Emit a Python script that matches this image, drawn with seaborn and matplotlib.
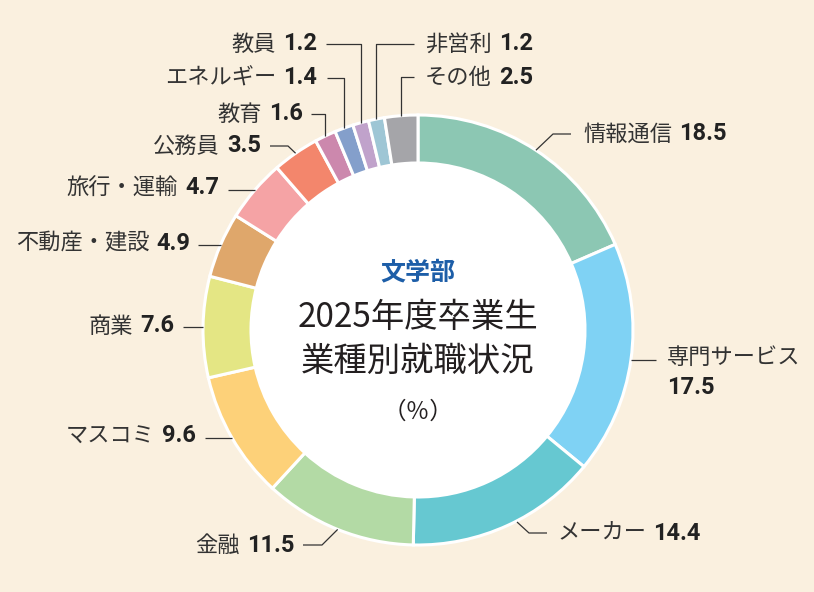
"""Donut chart: 文学部 2025年度卒業生 業種別就職状況."""

import matplotlib.pyplot as plt
import numpy as np
import seaborn as sns
from matplotlib.patches import Circle

# data
categories = ["情報通信", "専門サービス", "メーカー", "金融", "マスコミ", "商業",
              "不動産・建設", "旅行・運輸", "公務員", "教育", "エネルギー", "教員",
              "非営利", "その他"]
shares = [18.5, 17.5, 14.4, 11.5, 9.6, 7.6, 4.9, 4.7, 3.5, 1.6, 1.4, 1.2, 1.2, 2.5]
colors = ["#8cc7b3", "#7fd2f4", "#66c8d1", "#b3daa5", "#fdd179", "#e4e684",
          "#dfa76b", "#f5a3a5", "#f3866c", "#cc88ad", "#849fcb", "#c0a2cb",
          "#9ec6d5", "#a5a5a9"]
title_lines = ["文学部", "2025年度卒業生", "業種別就職状況", "（％）"]

# style
sns.set_theme(style="white")
plt.rcParams['font.family'] = ['Noto Sans CJK JP', 'DejaVu Sans']

BG = "#faf0df"
W, H = 814, 592
CX, CY, R_OUT, R_IN = 418, 330, 215, 167

# label layout (pixel coords, y down). path points: None -> take anchor's coord
# side R: text starts at x; side L: text ends at x; side B: name above number
layout = {
    "情報通信": dict(side="R", x=583, y=134, path=[(553, 134), (571, 134)]),
    "専門サービス": dict(side="B", x=667, y=357, path=[(656, None)]),
    "メーカー": dict(side="R", x=557, y=533, path=[(529, 533), (547, 533)], anchor=(517, 522)),
    "金融": dict(side="L", x=294, y=545, path=[(322, 545), (303, 545)]),
    "マスコミ": dict(side="L", x=196, y=436, path=[(205, None)]),
    "商業": dict(side="L", x=174, y=326, path=[(183, None)]),
    "不動産・建設": dict(side="L", x=190, y=243, path=[(198, None)]),
    "旅行・運輸": dict(side="L", x=219, y=188, path=[(228, None)]),
    "公務員": dict(side="L", x=261, y=146, path=[(288, 146), (270, 146)]),
    "教育": dict(side="L", x=303, y=114, path=[(None, 114), (311, 114)]),
    "エネルギー": dict(side="L", x=317, y=78, path=[(None, 78), (327, 78)]),
    "教員": dict(side="L", x=317, y=44, path=[(None, 44), (326, 44)]),
    "非営利": dict(side="R", x=425, y=44, path=[(None, 44), (414, 44)]),
    "その他": dict(side="R", x=425, y=77, path=[(None, 77), (414, 77)]),
}

fig = plt.figure(figsize=(W / 100, H / 100), dpi=100, facecolor=BG)
ax = fig.add_axes([0, 0, 1, 1])
ax.set_facecolor(BG)

palette = sns.color_palette(colors)
wedges, _ = ax.pie(shares, colors=palette, startangle=270, counterclock=True,
                   radius=R_OUT, center=(CX, CY),
                   wedgeprops=dict(width=R_OUT - R_IN, edgecolor="white", linewidth=2.2))
ax.add_patch(Circle((CX, CY), R_IN, facecolor="white", edgecolor="none", zorder=0.5))
ax.set_xlim(0, W)
ax.set_ylim(H, 0)
ax.axis("off")

renderer = fig.canvas.get_renderer()
name_kw = dict(fontsize=16, color="#333333", va="center")
num_kw = dict(fontsize=17, color="#222222", va="center", fontweight="bold",
              family=["Roboto", "DejaVu Sans"])
GAP = 7

for cat, val, w in zip(categories, shares, wedges):
    spec = layout[cat]
    th = np.deg2rad((w.theta1 + w.theta2) / 2)
    anchor = spec.get("anchor", (CX + R_OUT * np.cos(th), CY + R_OUT * np.sin(th)))
    pts = [anchor]
    for px, py in spec["path"]:
        pts.append((anchor[0] if px is None else px, anchor[1] if py is None else py))
    xs, ys = zip(*pts)
    ax.plot(xs, ys, color="#333333", lw=0.9, solid_capstyle="butt", zorder=3)

    num = f"{val:.1f}"
    x, y = spec["x"], spec["y"]
    if spec["side"] == "L":
        t = ax.text(x, y, num, ha="right", **num_kw)
        nw = t.get_window_extent(renderer).width
        ax.text(x - nw - GAP, y, cat, ha="right", **name_kw)
    elif spec["side"] == "R":
        t = ax.text(x, y, cat, ha="left", **name_kw)
        tw = t.get_window_extent(renderer).width
        ax.text(x + tw + GAP, y, num, ha="left", **num_kw)
    else:
        ax.text(x, y, cat, ha="left", **name_kw)
        ax.text(x, y + 30, num, ha="left", **num_kw)

# centre title
ax.text(CX, 272, title_lines[0], ha="center", va="center", fontsize=18,
        fontweight="bold", color="#1d5ea8")
ax.text(CX, 318, title_lines[1], ha="center", va="center", fontsize=24, color="#231f20")
ax.text(CX, 361, title_lines[2], ha="center", va="center", fontsize=24, color="#231f20")
ax.text(CX, 412, title_lines[3], ha="center", va="center", fontsize=17, color="#231f20")

fig.savefig("out.png", dpi=100, facecolor=BG)
